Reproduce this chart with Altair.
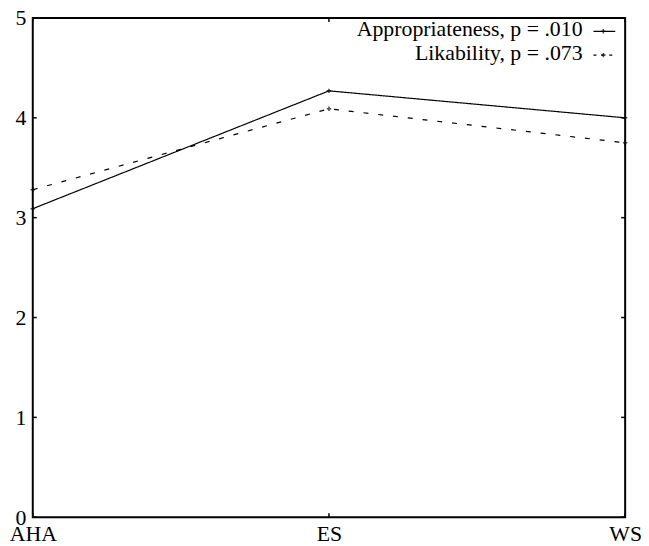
import altair as alt
import pandas as pd

conditions = ["AHA", "ES", "WS"]
appropriateness = [3.09, 4.27, 4.00]
likability = [3.28, 4.09, 3.75]
y_ticks = [0, 1, 2, 3, 4, 5]
series_labels = ["Appropriateness, p = .010", "Likability, p = .073"]

W, H = 598, 504
FONT = "Liberation Serif"
FS = 22

df = pd.DataFrame({
    "cond": conditions * 2,
    "score": appropriateness + likability,
    "series": [series_labels[0]] * 3 + [series_labels[1]] * 3,
})

xscale = alt.Scale(type="point", domain=conditions, padding=0)
yscale = alt.Scale(domain=[0, 5], nice=False, zero=True)

x_enc = alt.X("cond:N", scale=xscale, axis=alt.Axis(
    title=None, labelAngle=0, ticks=False, domain=False, grid=False,
    labelFont=FONT, labelFontSize=FS, labelColor="black", labelPadding=6,
    labelFlush=False, labelOverlap=False))
y_enc = alt.Y("score:Q", scale=yscale, axis=alt.Axis(
    title=None, values=y_ticks, ticks=False, domain=False, grid=False,
    labelFont=FONT, labelFontSize=FS, labelColor="black", labelPadding=7,
    labelFlush=False, labelOverlap=False))

dash = alt.StrokeDash("series:N", scale=alt.Scale(domain=series_labels,
                      range=[[1, 0], [5, 10]]), legend=None)

lines = alt.Chart(df).mark_line(color="black", strokeWidth=1.2).encode(
    x=x_enc, y=y_enc, strokeDash=dash)

plus = "M-1,0L1,0M0,-1L0,1"
points = alt.Chart(df).mark_point(shape=plus, size=20, color="black",
                                  strokeWidth=1.5, filled=False).encode(
    x=x_enc, y=y_enc)

tick_df = pd.DataFrame({"score": y_ticks})
left_ticks = alt.Chart(tick_df).mark_rule(color="black", strokeWidth=1.5).encode(
    y=y_enc, x=alt.value(0), x2=alt.value(4))
right_ticks = alt.Chart(tick_df).mark_rule(color="black", strokeWidth=1.5).encode(
    y=y_enc, x=alt.value(W - 4), x2=alt.value(W))

xt_df = pd.DataFrame({"cond": conditions})
bottom_ticks = alt.Chart(xt_df).mark_rule(color="black", strokeWidth=1.5).encode(
    x=x_enc, y=alt.value(H - 4), y2=alt.value(H))
top_ticks = alt.Chart(xt_df).mark_rule(color="black", strokeWidth=1.5).encode(
    x=x_enc, y=alt.value(0), y2=alt.value(4))

legend_layers = []
row_base = [18.5, 42.5]
row_line = [13.5, 37.5]
row_dash = [[1, 0], [3, 5]]
for i, lab in enumerate(series_labels):
    ldf = pd.DataFrame({"label": [lab]})
    legend_layers.append(
        alt.Chart(ldf).mark_text(font=FONT, fontSize=FS, align="right",
                                 baseline="alphabetic", color="black").encode(
            text="label:N", x=alt.value(555), y=alt.value(row_base[i])))
    legend_layers.append(
        alt.Chart(ldf).mark_rule(color="black", strokeWidth=1.2,
                                 strokeDash=row_dash[i]).encode(
            x=alt.value(566), x2=alt.value(588), y=alt.value(row_line[i])))
    legend_layers.append(
        alt.Chart(ldf).mark_point(shape=plus, size=20, color="black",
                                  strokeWidth=1.5, filled=False).encode(
            x=alt.value(576), y=alt.value(row_line[i])))

chart = alt.layer(
    lines, points, left_ticks, right_ticks, bottom_ticks, top_ticks,
    *legend_layers
).properties(
    width=W, height=H,
    autosize=alt.AutoSizeParams(type="none"),
    padding={"left": 25, "top": 7.5, "right": 16, "bottom": 28},
    background="white",
).configure_view(stroke="black", strokeWidth=2)

chart.save("out.html", embed_options={"renderer": "svg", "actions": False})
